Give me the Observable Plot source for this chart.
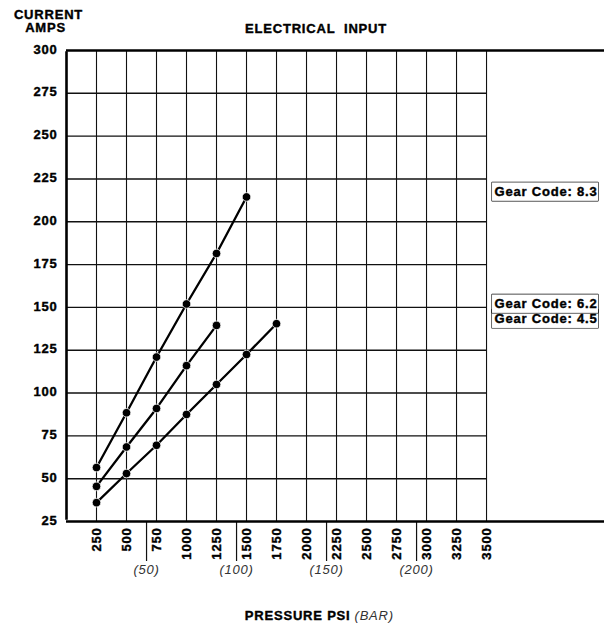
<!DOCTYPE html>
<html><head><meta charset="utf-8">
<script src="https://cdn.jsdelivr.net/npm/d3@7"></script>
<script src="https://cdn.jsdelivr.net/npm/@observablehq/plot@0.6"></script>
<style>html,body{margin:0;padding:0;background:#fff}</style>
</head><body><div id="chart"></div>
<script>
// ---- data ----
const psiValues = [250, 500, 750, 1000, 1250, 1500, 1750];
const gear83Amps = [56.5, 88.5, 121, 152, 181.5, 214.5];
const gear62Amps = [45.5, 68.5, 91, 116, 139.5];
const gear45Amps = [36, 53, 69.5, 87.5, 105, 122.5, 140.5];
const gearCodes = ["8.3", "6.2", "4.5"];
const xTicks = [250, 500, 750, 1000, 1250, 1500, 1750, 2000, 2250, 2500, 2750, 3000, 3250, 3500];
const yTicks = [25, 50, 75, 100, 125, 150, 175, 200, 225, 250, 275, 300];
const barLabels = ["(50)", "(100)", "(150)", "(200)"];
const barPsi = [667, 1417, 2167, 2917];

const seriesAmps = {"8.3": gear83Amps, "6.2": gear62Amps, "4.5": gear45Amps};
const rows = gearCodes.flatMap(g => seriesAmps[g].map((a, i) => ({gear: g, psi: psiValues[i], amps: a})));
const lastRow = g => rows.filter(r => r.gear === g).at(-1);
const xMax = d3.max(xTicks);
const yMin = d3.min(yTicks), yMax = d3.max(yTicks);

const bold = {fontWeight: "bold", fill: "black", stroke: "black", strokeWidth: 0.4, lineAnchor: "middle"};
const ital = {fontStyle: "italic", fontWeight: "normal", fill: "#333", lineAnchor: "middle"};

const gearLabel = (g, dy) => Plot.text([lastRow(g)], {
  x: () => xMax, y: "amps", text: d => "Gear Code: " + d.gear,
  textAnchor: "start", dx: 8, dy, fontSize: 13, ...bold
});

const chart = Plot.plot({
  width: 604, height: 625,
  marginLeft: 66, marginRight: 0, marginTop: 50, marginBottom: 104,
  x: {domain: [0, 4483], axis: null},
  y: {domain: [yMin, yMax], axis: null},
  style: {fontFamily: "'Liberation Sans', Arial, sans-serif", fontSize: "13px", fontWeight: "bold",
          letterSpacing: "0.8px", background: "white", color: "black", overflow: "visible"},
  marks: [
    Plot.ruleY(yTicks.filter(v => v > yMin && v < yMax), {x1: 0, x2: xMax, stroke: "#111", strokeWidth: 1.4}),
    Plot.ruleX(xTicks, {y1: yMin, y2: yMax, stroke: "#111", strokeWidth: 1.1}),
    Plot.ruleX(barPsi, {y1: yMin, y2: yMin, insetBottom: -40, stroke: "#111", strokeWidth: 1.2}),
    Plot.ruleY([yMin], {stroke: "black", strokeWidth: 2.6}),
    Plot.ruleY([yMax], {stroke: "black", strokeWidth: 2.6}),
    Plot.ruleX([0], {y1: yMin, y2: yMax, stroke: "black", strokeWidth: 2.6, insetTop: -1.3, insetBottom: -1.3}),
    Plot.line(rows, {x: "psi", y: "amps", z: "gear", stroke: "black", strokeWidth: 2.3}),
    Plot.dot(rows, {x: "psi", y: "amps", r: 4.3, fill: "black", stroke: "white", strokeWidth: 0.8}),
    // y tick labels
    Plot.text(yTicks, {y: d => d, text: d => String(d), frameAnchor: "left", textAnchor: "end", dx: -9, dy: -1, ...bold}),
    // x tick labels (rotated)
    Plot.text(xTicks, {x: d => d, text: d => String(d), frameAnchor: "bottom", rotate: -90, textAnchor: "end", dy: 6, ...bold}),
    // bar labels
    Plot.text(barLabels, {x: (d, i) => barPsi[i], text: d => d, frameAnchor: "bottom", dy: 48, ...ital}),
    // axis titles
    Plot.text(["CURRENT"], {frameAnchor: "top-left", textAnchor: "middle", dx: -18, dy: -36, ...bold}),
    Plot.text(["AMPS"], {frameAnchor: "top-left", textAnchor: "middle", dx: -21, dy: -22.5, ...bold}),
    Plot.text(["ELECTRICAL  INPUT"], {frameAnchor: "top", dx: -19.5, dy: -22, ...bold}),
    Plot.text(["PRESSURE PSI"], {frameAnchor: "bottom", textAnchor: "end", dx: 15, dy: 94.5, ...bold}),
    Plot.text(["(BAR)"], {frameAnchor: "bottom", textAnchor: "start", dx: 19, dy: 94.5, ...ital}),
    // gear code labels
    gearLabel("8.3", -5),
    gearLabel("4.5", -4.6),
    gearLabel("6.2", -21.4)
  ]
});
document.getElementById("chart").append(chart);

// frame boxes around gear code labels
d3.select(chart).selectAll("text").filter(function() { return this.textContent.startsWith("Gear Code"); })
  .each(function() {
    const bb = this.getBBox();
    const cy = bb.y + bb.height / 2;
    const rect = document.createElementNS("http://www.w3.org/2000/svg", "rect");
    const tf = this.getAttribute("transform");
    if (tf) rect.setAttribute("transform", tf);
    rect.setAttribute("x", bb.x - 2.5);
    rect.setAttribute("y", cy - 9.2);
    rect.setAttribute("width", bb.width + 3);
    rect.setAttribute("height", 18.4);
    rect.setAttribute("fill", "white");
    rect.setAttribute("stroke", "black");
    rect.setAttribute("stroke-width", 1.2);
    this.parentNode.insertBefore(rect, this);
  });
</script>
</body></html>
